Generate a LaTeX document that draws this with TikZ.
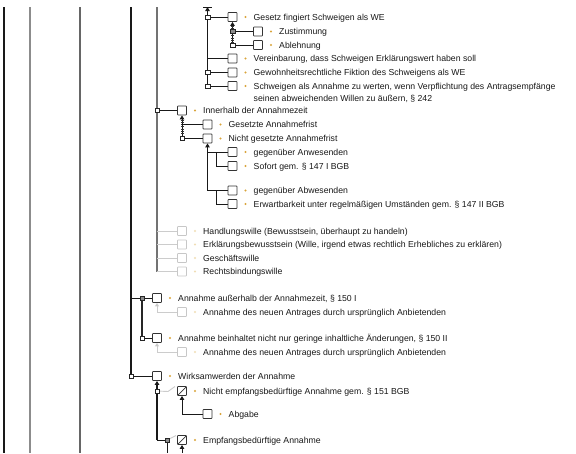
\documentclass[tikz,border=0pt]{standalone}
\usepackage{fontspec}
\setmainfont{Liberation Sans}
\usetikzlibrary{arrows.meta}
\definecolor{bul}{HTML}{D9A43A}
\definecolor{lbul}{HTML}{F0DDB5}
\pgfdeclarelayer{bg}
\pgfsetlayers{bg,main}
\newcommand\mrow[6]{%
  \node[#2] (#1) at (#3,#4) {};
  \node[#6] (#1d) at (#3+13,#4) {};
  \node[txt] (#1t) at (#3+21,#4+3.2) {#5};}
\begin{document}
\begin{tikzpicture}[x=1pt,y=-1pt,
  box/.style={draw=black!80,fill=white,line width=0.8pt,minimum size=9pt,inner sep=0pt,rounded corners=0.6pt},
  lbox/.style={draw=black!22,fill=white,line width=0.8pt,minimum size=9pt,inner sep=0pt,rounded corners=0.6pt},
  dbox/.style={box,path picture={\draw[black!80,line width=0.7pt] (path picture bounding box.south west) -- (path picture bounding box.north east);}},
  jn/.style={draw=black!85,fill=white,line width=0.5pt,minimum width=4.5pt,minimum height=3.6pt,inner sep=0pt},
  jf/.style={jn,fill=black!45},
  txt/.style={anchor=base west,inner sep=0pt,font=\fontsize{8.7}{12}\selectfont,text=black!90},
  dot/.style={circle,fill=bul,inner sep=0pt,minimum size=2.2pt},
  ldot/.style={dot,fill=lbul},
  con/.style={draw=black!90,line width=0.9pt},
  lcon/.style={draw=black!20,line width=0.9pt},
  arr/.style={con,-{Triangle[width=4.5pt,length=4pt]}},
  ticks/.style={draw=black!80,line width=3pt,dash pattern=on 0.6pt off 1.7pt},
]
\useasboundingbox (0,0) rectangle (576,453);

% rows
\mrow{r1}{box}{232.5}{17}{Gesetz fingiert Schweigen als WE}{dot}
\mrow{r2}{box}{258}{31.5}{Zustimmung}{dot}
\mrow{r3}{box}{258}{45}{Ablehnung}{dot}
\mrow{r4}{box}{232.5}{58.5}{Vereinbarung, dass Schweigen Erklärungswert haben soll}{dot}
\mrow{r5}{box}{232.5}{72.5}{Gewohnheitsrechtliche Fiktion des Schweigens als WE}{dot}
\mrow{r6}{box}{232.5}{86}{Schweigen als Annahme zu werten, wenn Verpflichtung des Antragsempfänge}{dot}
\node[txt] (r6u) at (253.5,101.2) {seinen abweichenden Willen zu äußern, § 242};
\mrow{r7}{box}{182}{110.5}{Innerhalb der Annahmezeit}{dot}
\mrow{r8}{box}{207.5}{124.5}{Gesetzte Annahmefrist}{dot}
\mrow{r9}{box}{207.5}{138.5}{Nicht gesetzte Annahmefrist}{dot}
\mrow{r10}{box}{232.5}{152}{gegenüber Anwesenden}{dot}
\mrow{r11}{box}{232.5}{166}{Sofort gem. § 147 I BGB}{dot}
\mrow{r12}{box}{232.5}{190.5}{gegenüber Abwesenden}{dot}
\mrow{r13}{box}{232.5}{204}{Erwartbarkeit unter regelmäßigen Umständen gem. § 147 II BGB}{dot}
\mrow{r14}{lbox}{182}{231}{Handlungswille (Bewusstsein, überhaupt zu handeln)}{ldot}
\mrow{r15}{lbox}{182}{244.5}{Erklärungsbewusstsein (Wille, irgend etwas rechtlich Erhebliches zu erklären)}{ldot}
\mrow{r16}{lbox}{182}{258}{Geschäftswille}{ldot}
\mrow{r17}{lbox}{182}{271.5}{Rechtsbindungswille}{ldot}
\mrow{r18}{box}{157}{298}{Annahme außerhalb der Annahmezeit, § 150 I}{dot}
\mrow{r19}{lbox}{182}{312}{Annahme des neuen Antrages durch ursprünglich Anbietenden}{ldot}
\mrow{r20}{box}{157}{338}{Annahme beinhaltet nicht nur geringe inhaltliche Änderungen, § 150 II}{dot}
\mrow{r21}{lbox}{182}{352}{Annahme des neuen Antrages durch ursprünglich Anbietenden}{ldot}
\mrow{r22}{box}{157}{376}{Wirksamwerden der Annahme}{dot}
\mrow{r23}{dbox}{182}{391}{Nicht empfangsbedürftige Annahme gem. § 151 BGB}{dot}
\mrow{r24}{box}{207.5}{414}{Abgabe}{dot}
\mrow{r25}{dbox}{182}{440}{Empfangsbedürftige Annahme}{dot}

% junctions
\node[jn] (j1) at (207.5,17) {};
\node[jn] (j5) at (207.5,72.5) {};
\node[jn] (j6) at (207.5,86) {};
\node[jf] (j2) at (232.5,31.5) {};
\node[jn] (j3) at (232.5,45) {};
\node[jn] (j7) at (157,110.5) {};
\node[jn] (j9) at (182,138.5) {};
\node[jf] (j18) at (142,298) {};
\node[jn] (j20) at (142,338) {};
\node[jn] (j22) at (131,376) {};
\node[jn] (j23) at (157,391) {};
\node[jf] (j25) at (167,440) {};

% coordinates
\coordinate (a1) at (4,7);    \coordinate (a2) at (4,453);
\coordinate (b1) at (30,7);   \coordinate (b2) at (30,453);
\coordinate (d1) at (80,7);   \coordinate (d2) at (80,453);
\coordinate (k1) at (131,7);
\coordinate (g1) at (157,7);  \coordinate (g2) at (157,271.5);
\coordinate (ta) at (207.5,7);
\coordinate (tbl) at (203,7); \coordinate (tbr) at (212,7);
\coordinate (c4) at (207.5,58.5);
\coordinate (c8) at (182,124.5);
\coordinate (c10) at (207.5,152);
\coordinate (c11a) at (216.5,152); \coordinate (c11b) at (216.5,166);
\coordinate (c12) at (207.5,190.5);
\coordinate (c13a) at (216.5,190.5); \coordinate (c13b) at (216.5,204);
\coordinate (c14) at (157,231); \coordinate (c15) at (157,244.5);
\coordinate (c16) at (157,258); \coordinate (c17) at (157,271.5);
\coordinate (c18) at (131,298);
\coordinate (c19) at (157,312);
\coordinate (c21) at (157,352);
\coordinate (c25) at (157,440);
\coordinate (c23a) at (168,391.5); \coordinate (c23b) at (175,386.5);
\coordinate (c25b) at (176,435.5);
\coordinate (c25d) at (167,453);
\coordinate (c25e) at (182,453);
\coordinate (c24) at (182,414);
\coordinate (t1a) at (232.5,26); \coordinate (t7a) at (182,119.5);

\begin{pgfonlayer}{bg}
\fill[white] (0,0) rectangle (576,453);
% long vertical lines
\draw[black!90,line width=1.3pt] (a1) -- (a2);
\draw[black!45,line width=2pt] (b1) -- (b2);
\draw[black!60,line width=1.8pt] (d1) -- (d2);
\draw[black!90,line width=1.3pt] (k1) -- (j22);
\draw[black!55,line width=1.8pt] (g1) -- (g2);
% top group
\draw[con] (tbl) -- (tbr);
\draw[arr] (j6) -- (ta);
\draw[con] (j1) -- (r1);
\draw[con] (c4) -- (r4);
\draw[con] (j5) -- (r5);
\draw[con] (j6) -- (r6);
\draw[arr] (j3) -- (r1);
\draw[ticks] (t1a) -- (j3);
\draw[con] (j2) -- (r2);
\draw[con] (j3) -- (r3);
% Annahmezeit group
\draw[con] (j7) -- (r7);
\draw[arr] (j9) -- (r7);
\draw[ticks] (t7a) -- (j9);
\draw[con] (c8) -- (r8);
\draw[con] (j9) -- (r9);
\draw[arr] (c12) -- (r9);
\draw[con] (c10) -- (r10);
\draw[con] (c11a) -- (c11b) -- (r11);
\draw[con] (c12) -- (r12);
\draw[con] (c13a) -- (c13b) -- (r13);
% light group
\draw[lcon] (c14) -- (r14);
\draw[lcon] (c15) -- (r15);
\draw[lcon] (c16) -- (r16);
\draw[lcon] (c17) -- (r17);
% 150 group
\draw[con] (c18) -- (j18) -- (r18);
\draw[black!85,line width=1.8pt] (j18) -- (j20);
\draw[con] (j20) -- (r20);
\draw[lcon,-{Triangle[width=4pt,length=3.5pt,fill=black!45]}] (c19) -- (r18);
\draw[lcon] (c19) -- (r19);
\draw[lcon,-{Triangle[width=4pt,length=3.5pt,fill=black!45]}] (c21) -- (r20);
\draw[lcon] (c21) -- (r21);
% Wirksamwerden group
\draw[con] (j22) -- (r22);
\draw[arr,line width=1.6pt] (c25) -- (r22);
\draw[lcon] (j23) -- (c23a) -- (c23b);
\draw[con] (c25) -- (j25);
\draw[lcon] (j25) -- (c25b);
\draw[con] (j25) -- (c25d);
\draw[arr] (c25e) -- (r25);
\draw[arr] (c24) -- (r23);
\draw[con] (c24) -- (r24);
\end{pgfonlayer}
\end{tikzpicture}
\end{document}
